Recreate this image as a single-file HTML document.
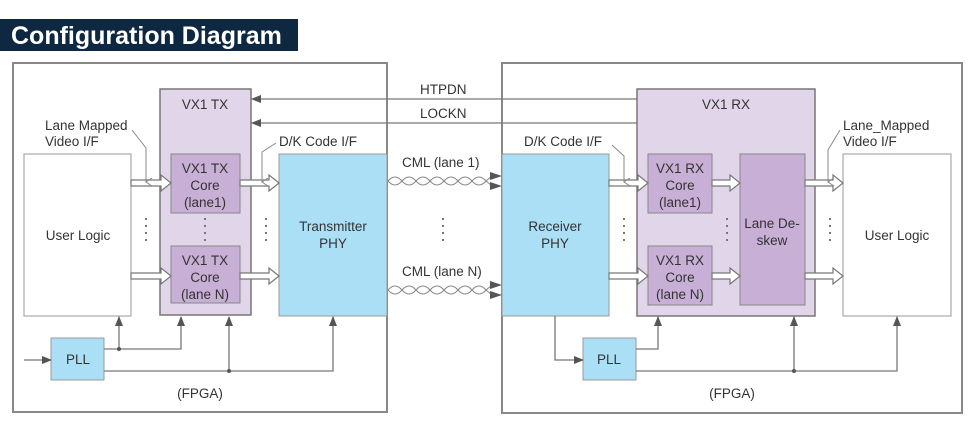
<!DOCTYPE html>
<html><head><style>
body{margin:0;background:#fff;}
svg{display:block;font-family:"Liberation Sans",sans-serif;}
text{fill:#333;font-size:13.5px;}
</style></head><body>
<svg width="980" height="436" viewBox="0 0 980 436">
<defs>
<marker id="ah" markerWidth="10" markerHeight="8" refX="9" refY="4" orient="auto" markerUnits="userSpaceOnUse"><path d="M0,0 L10,4 L0,8z" fill="#555"/></marker>
<marker id="sa" markerWidth="8" markerHeight="8" refX="4" refY="7" orient="auto" markerUnits="userSpaceOnUse"><path d="M0,1 L4,7 L8,1" fill="none" stroke="#888" stroke-width="1"/></marker>
</defs>
<rect x="0" y="19" width="298" height="32" fill="#0e2841"/>
<text x="11" y="44" style="fill:#fff;font-size:25px;font-weight:bold">Configuration Diagram</text>

<g fill="none" stroke="#888" stroke-width="2">
<rect x="13" y="63" width="374" height="349"/>
<rect x="502" y="63" width="460" height="350"/>
</g>
<rect x="24" y="154" width="107" height="162" fill="#fff" stroke="#aaa" stroke-width="1.2"/>
<rect x="160" y="89" width="91" height="226" fill="#e1d5e9" stroke="#777" stroke-width="1.5"/>
<rect x="171" y="154" width="69" height="59" fill="#c8afd6" stroke="#888" stroke-width="1"/>
<rect x="171" y="246" width="69" height="57" fill="#c8afd6" stroke="#888" stroke-width="1"/>
<rect x="279" y="154" width="108" height="162" fill="#aadff6" stroke="#999" stroke-width="1"/>
<rect x="51" y="338" width="53" height="42" fill="#aadff6" stroke="#999" stroke-width="1"/>
<rect x="502" y="154" width="107" height="162" fill="#aadff6" stroke="#999" stroke-width="1"/>
<rect x="637" y="89" width="178" height="227" fill="#e1d5e9" stroke="#777" stroke-width="1.5"/>
<rect x="648" y="154" width="64" height="59" fill="#c8afd6" stroke="#888" stroke-width="1"/>
<rect x="648" y="246" width="64" height="59" fill="#c8afd6" stroke="#888" stroke-width="1"/>
<rect x="740" y="154" width="65" height="151" fill="#c8afd6" stroke="#888" stroke-width="1"/>
<rect x="843" y="154" width="108" height="162" fill="#fff" stroke="#aaa" stroke-width="1.2"/>
<rect x="583" y="338" width="53" height="42" fill="#aadff6" stroke="#999" stroke-width="1"/>

<g fill="#fff" stroke="#777" stroke-width="1.2">
<polygon transform="translate(131,183)" points="0,-3 30,-3 30,-8 40,0 30,8 30,3 0,3"/>
<polygon transform="translate(131,276)" points="0,-3 30,-3 30,-8 40,0 30,8 30,3 0,3"/>
<polygon transform="translate(240,183)" points="0,-3 29,-3 29,-8 39,0 29,8 29,3 0,3"/>
<polygon transform="translate(240,276)" points="0,-3 29,-3 29,-8 39,0 29,8 29,3 0,3"/>
<polygon transform="translate(609,183)" points="0,-3 29,-3 29,-8 39,0 29,8 29,3 0,3"/>
<polygon transform="translate(609,276)" points="0,-3 29,-3 29,-8 39,0 29,8 29,3 0,3"/>
<polygon transform="translate(712,183)" points="0,-3 18,-3 18,-8 28,0 18,8 18,3 0,3"/>
<polygon transform="translate(712,276)" points="0,-3 18,-3 18,-8 28,0 18,8 18,3 0,3"/>
<polygon transform="translate(805,183)" points="0,-3 28,-3 28,-8 38,0 28,8 28,3 0,3"/>
<polygon transform="translate(805,276)" points="0,-3 28,-3 28,-8 38,0 28,8 28,3 0,3"/>
</g>

<g stroke="#777" stroke-width="1.3" fill="none">
<line x1="637" y1="99" x2="252" y2="99" marker-end="url(#ah)"/>
<line x1="637" y1="123" x2="252" y2="123" marker-end="url(#ah)"/>
</g>
<text x="420" y="94">HTPDN</text>
<text x="420" y="118">LOCKN</text>

<g stroke="#888" stroke-width="1" fill="none">
<path d="M388,181 q7,-8 14,0 t14,0 t14,0 t14,0 t14,0 t14,0 t14,0 L492,176"/>
<path d="M388,181 q7,8 14,0 t14,0 t14,0 t14,0 t14,0 t14,0 t14,0 L492,186"/>
<path d="M388,290 q7,-8 14,0 t14,0 t14,0 t14,0 t14,0 t14,0 t14,0 L492,285"/>
<path d="M388,290 q7,8 14,0 t14,0 t14,0 t14,0 t14,0 t14,0 t14,0 L492,295"/>
</g>
<g fill="#555">
<path d="M490,172 L502,176 L490,180z"/><path d="M490,182 L502,186 L490,190z"/>
<path d="M490,281 L502,285 L490,289z"/><path d="M490,291 L502,295 L490,299z"/>
</g>
<text x="402" y="167">CML (lane 1)</text>
<text x="402" y="276">CML (lane N)</text>

<g stroke="#777" stroke-width="2" stroke-dasharray="2,5">
<line x1="146" y1="218" x2="146" y2="244"/>
<line x1="205" y1="218" x2="205" y2="244"/>
<line x1="266" y1="218" x2="266" y2="244"/>
<line x1="443" y1="218" x2="443" y2="244"/>
<line x1="624" y1="218" x2="624" y2="244"/>
<line x1="727" y1="218" x2="727" y2="244"/>
<line x1="830" y1="218" x2="830" y2="244"/>
</g>

<g stroke="#888" stroke-width="1" fill="none">
<path d="M132,130 L146,148 L146,182" marker-end="url(#sa)"/>
<path d="M276,143 L262,152 L262,182" marker-end="url(#sa)"/>
<path d="M612,145 L624,156 L624,182" marker-end="url(#sa)"/>
<path d="M840,130 L828,150 L828,182" marker-end="url(#sa)"/>
</g>
<text x="45" y="130">Lane Mapped</text>
<text x="45" y="146">Video I/F</text>
<text x="279" y="146">D/K Code I/F</text>
<text x="524" y="146">D/K Code I/F</text>
<text x="843" y="130">Lane_Mapped</text>
<text x="843" y="146">Video I/F</text>

<g stroke="#777" stroke-width="1.3" fill="none">
<line x1="24" y1="360" x2="51" y2="360" marker-end="url(#ah)"/>
<path d="M104,349 L181,349 L181,317" marker-end="url(#ah)"/>
<line x1="119" y1="349" x2="119" y2="317" marker-end="url(#ah)"/>
<path d="M104,371 L333,371 L333,317" marker-end="url(#ah)"/>
<line x1="229" y1="371" x2="229" y2="317" marker-end="url(#ah)"/>
<path d="M555,316 L555,360 L583,360" marker-end="url(#ah)"/>
<path d="M636,349 L658,349 L658,317" marker-end="url(#ah)"/>
<path d="M636,371 L897,371 L897,317" marker-end="url(#ah)"/>
<line x1="794" y1="371" x2="794" y2="317" marker-end="url(#ah)"/>
</g>
<g fill="#555"><circle cx="119" cy="349" r="2"/><circle cx="229" cy="371" r="2"/><circle cx="794" cy="371" r="2"/></g>

<g text-anchor="middle">
<text x="78" y="240">User Logic</text>
<text x="205" y="109">VX1 TX</text>
<text x="205" y="173">VX1 TX</text><text x="205" y="190">Core</text><text x="205" y="207">(lane1)</text>
<text x="205" y="265">VX1 TX</text><text x="205" y="282">Core</text><text x="205" y="299">(lane N)</text>
<text x="333" y="231">Transmitter</text><text x="333" y="248">PHY</text>
<text x="78" y="364">PLL</text>
<text x="200" y="398">(FPGA)</text>
<text x="555" y="231">Receiver</text><text x="555" y="248">PHY</text>
<text x="726" y="109">VX1 RX</text>
<text x="680" y="173">VX1 RX</text><text x="680" y="190">Core</text><text x="680" y="207">(lane1)</text>
<text x="680" y="265">VX1 RX</text><text x="680" y="282">Core</text><text x="680" y="299">(lane N)</text>
<text x="772" y="228">Lane De-</text><text x="772" y="245">skew</text>
<text x="897" y="240">User Logic</text>
<text x="609" y="364">PLL</text>
<text x="732" y="398">(FPGA)</text>
</g>
</svg>
</body></html>
